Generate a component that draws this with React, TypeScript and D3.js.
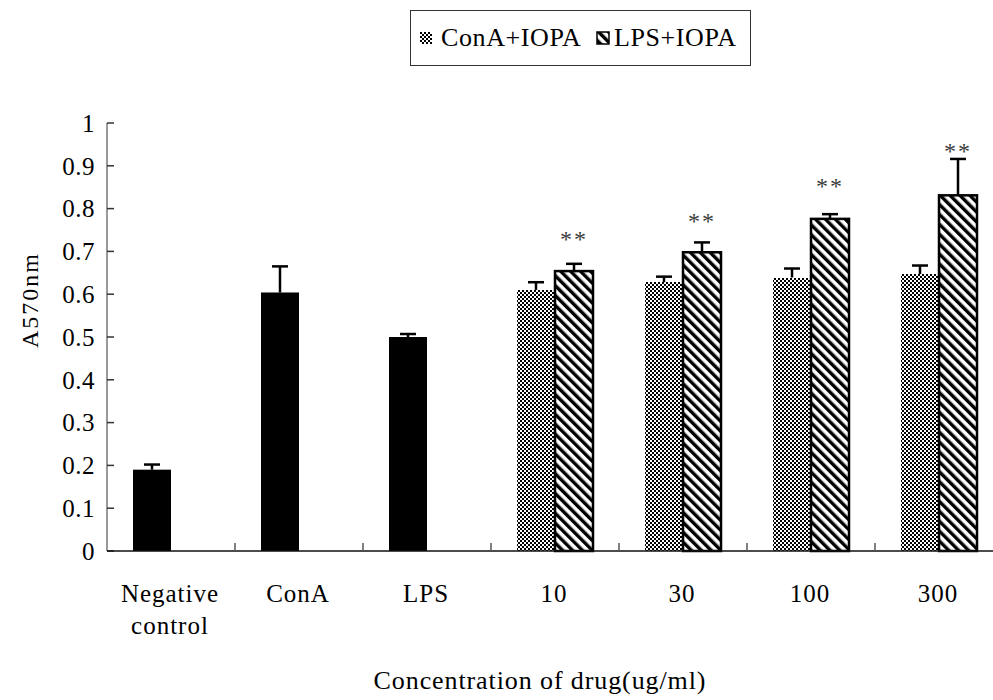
import React from "react";
import * as d3 from "d3";

const categories = ["Negative control", "ConA", "LPS", "10", "30", "100", "300"];
const seriesNames = ["ConA+IOPA", "LPS+IOPA"];
// control bars (black), drawn in the first slot
const controlCats = ["Negative control", "ConA", "LPS"];
const controlValues = [0.19, 0.604, 0.5];
const controlErrors = [0.012, 0.061, 0.007];
// drug groups
const doseCats = ["10", "30", "100", "300"];
const conaIopaValues = [0.61, 0.628, 0.639, 0.647];
const conaIopaErrors = [0.018, 0.013, 0.021, 0.02];
const lpsIopaValues = [0.654, 0.698, 0.776, 0.831];
const lpsIopaErrors = [0.017, 0.023, 0.011, 0.085];
// significance marks (height of the "**" label in data units)
const starLevels = [0.745, 0.787, 0.867, 0.949];
const yTicks = [0, 0.1, 0.2, 0.3, 0.4, 0.5, 0.6, 0.7, 0.8, 0.9, 1];

const W = 993;
const H = 700;
const FONT = "Liberation Serif";

export default function App() {
  const x = d3.scaleBand<string>().domain(categories).range([107, 1003]).padding(0);
  const xi = d3
    .scaleBand<string>()
    .domain(seriesNames)
    .range([0, x.bandwidth()])
    .paddingInner(0)
    .paddingOuter(0.684);
  const y = d3.scaleLinear().domain([0, 1]).range([551, 123]);
  const bw = xi.bandwidth();
  const capW = 16;

  const errBar = (cx: number, v: number, e: number, key: string) => (
    <g key={key} stroke="#000" strokeWidth={2.5}>
      <line x1={cx} x2={cx} y1={y(v)} y2={y(v + e)} />
      <line x1={cx - capW / 2} x2={cx + capW / 2} y1={y(v + e)} y2={y(v + e)} />
    </g>
  );

  const tickLabel = (c: string) => (c === "Negative control" ? ["Negative", "control"] : [c]);
  const ts: React.CSSProperties = { fontFamily: FONT };

  return (
    <svg width={W} height={H} style={{ position: "absolute", left: 0, top: 0, background: "#fff", fontFamily: FONT }}>
      <defs>
        <pattern id="checker" width={4} height={4} patternUnits="userSpaceOnUse">
          <rect width={4} height={4} fill="#fff" />
          <rect x={0} y={0} width={2} height={2} fill="#000" />
          <rect x={2} y={2} width={2} height={2} fill="#000" />
        </pattern>
        <pattern id="diag" width={7} height={7} patternUnits="userSpaceOnUse" patternTransform="rotate(-45)">
          <rect width={7} height={7} fill="#fff" />
          <rect x={0} y={0} width={3.4} height={7} fill="#000" />
        </pattern>
      </defs>
      <rect width={W} height={H} fill="#fff" />

      {/* legend */}
      <rect x={410.5} y={10.5} width={340} height={55} fill="#fff" stroke="#333" strokeWidth={1} />
      <rect x={420} y={32} width={12} height={12} fill="url(#checker)" shapeRendering="crispEdges" />
      <text x={441} y={46} fontSize={26} style={ts} letterSpacing={0.6}>
        ConA+IOPA
      </text>
      <rect x={597} y={32} width={12} height={12} fill="url(#diag)" stroke="#000" strokeWidth={1.5} />
      <text x={614} y={46} fontSize={26} style={ts} letterSpacing={0.6}>
        LPS+IOPA
      </text>

      {/* y axis */}
      <line x1={107} x2={107} y1={y(1)} y2={y(0)} stroke="#777" strokeWidth={1.5} />
      {yTicks.map((t) => (
        <g key={t}>
          <line x1={107} x2={114} y1={y(t)} y2={y(t)} stroke="#333" strokeWidth={1.5} />
          <text x={95} y={y(t)} dy="0.35em" textAnchor="end" fontSize={25} style={ts} letterSpacing={0.5}>
            {d3.format("")(t)}
          </text>
        </g>
      ))}
      <text transform={`translate(38,300) rotate(-90)`} textAnchor="middle" fontSize={24} style={ts} letterSpacing={2}>
        A570nm
      </text>

      {/* bars: controls */}
      {controlCats.map((c, i) => {
        const x0 = (x(c) as number) + (xi(seriesNames[0]) as number);
        return (
          <g key={c}>
            <rect x={x0} y={y(controlValues[i])} width={bw} height={y(0) - y(controlValues[i])} fill="#000" />
            {errBar(x0 + bw / 2, controlValues[i], controlErrors[i], "e" + c)}
          </g>
        );
      })}

      {/* bars: dose groups */}
      {doseCats.map((c, i) => {
        const xa = (x(c) as number) + (xi(seriesNames[0]) as number);
        const xb = (x(c) as number) + (xi(seriesNames[1]) as number);
        return (
          <g key={c}>
            <rect
              x={xa}
              y={y(conaIopaValues[i])}
              width={bw}
              height={y(0) - y(conaIopaValues[i])}
              fill="url(#checker)"
              shapeRendering="crispEdges"
            />
            {errBar(xa + bw / 2, conaIopaValues[i], conaIopaErrors[i], "ea" + c)}
            <rect
              x={xb}
              y={y(lpsIopaValues[i])}
              width={bw}
              height={y(0) - y(lpsIopaValues[i])}
              fill="url(#diag)"
              stroke="#000"
              strokeWidth={2.5}
            />
            {errBar(xb + bw / 2, lpsIopaValues[i], lpsIopaErrors[i], "eb" + c)}
            <text
              x={xb + bw / 2}
              y={y(starLevels[i])}
              dy="0.6em"
              textAnchor="middle"
              fontSize={24}
              style={ts}
              fill="#3a3a3a"
              letterSpacing={2}
            >
              **
            </text>
          </g>
        );
      })}

      {/* x axis */}
      <line x1={107} x2={1003} y1={y(0)} y2={y(0)} stroke="#111" strokeWidth={1.5} />
      {categories.slice(1).map((c) => (
        <line key={c} x1={x(c) as number} x2={x(c) as number} y1={y(0)} y2={y(0) - 8} stroke="#555" strokeWidth={1.5} />
      ))}
      {categories.map((c) => (
        <text key={c} y={602} textAnchor="middle" fontSize={25} style={ts} letterSpacing={1}>
          {tickLabel(c).map((p, j) => (
            <tspan key={p} x={(x(c) as number) + x.bandwidth() / 2 - 1} dy={j === 0 ? 0 : 32}>
              {p}
            </tspan>
          ))}
        </text>
      ))}
      <text x={540} y={689} textAnchor="middle" fontSize={26} style={ts} letterSpacing={0.9}>
        Concentration of drug(ug/ml)
      </text>
    </svg>
  );
}
